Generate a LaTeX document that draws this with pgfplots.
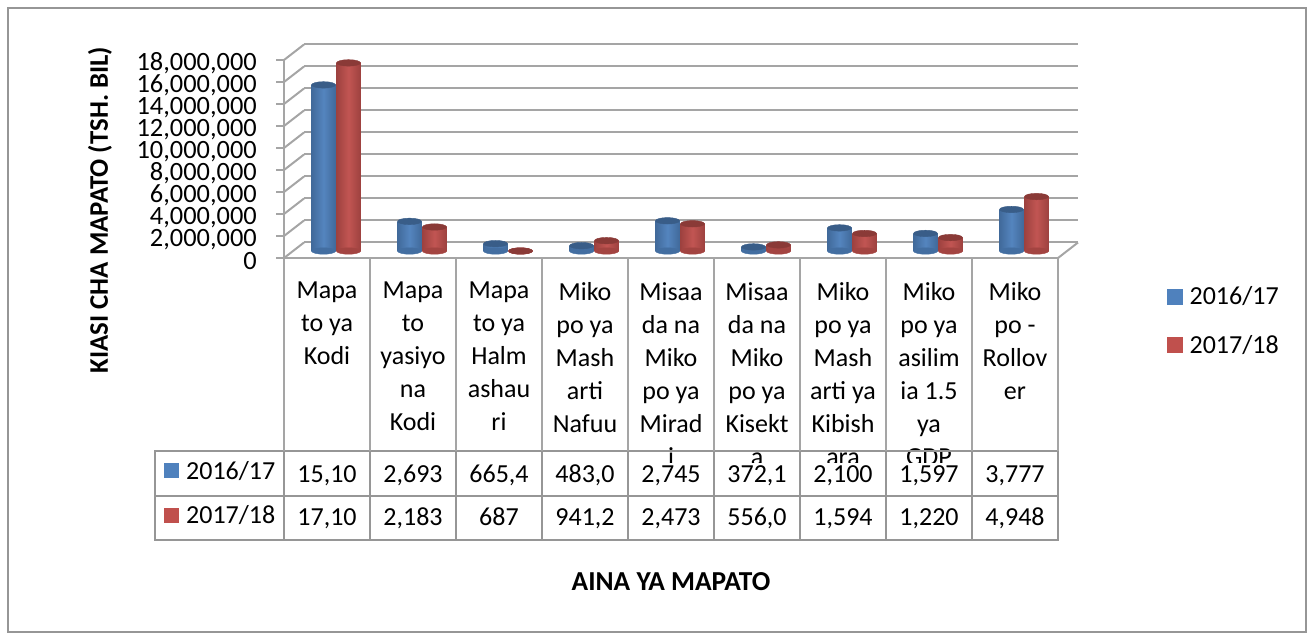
\documentclass[border=0pt]{standalone}
\usepackage{pgfplots}
\usepackage{pgfplotstable}
\usepackage{fontspec}
\setmainfont{Carlito}
\pgfplotsset{compat=1.18}
\definecolor{blueA}{RGB}{79,129,189}
\definecolor{redA}{RGB}{192,80,77}
\definecolor{gridc}{RGB}{165,165,165}
\definecolor{axc}{RGB}{150,150,150}
\pgfplotstableread{
x blue red
0 15100000 17100000
1 2693000 2183000
2 665400 687
3 483000 941200
4 2745000 2473000
5 372100 556000
6 2100000 1594000
7 1597000 1220000
8 3777000 4948000
}\budget
\newcommand{\sz}{\fontsize{26}{33}\selectfont}
\pgfplotsset{base/.style={scale only axis,width=774pt,height=198pt,xmin=0,xmax=9,ymin=0,ymax=18000000,clip=false,scaled y ticks=false}}
\begin{document}
\begin{tikzpicture}[x=1pt,y=1pt]
\path (0,0) rectangle (1309,633);
\draw[axc,line width=1.5pt] (8,1) rectangle (1306,625);
% back wall
\begin{axis}[base,at={(304pt,390.5pt)},anchor=south west,axis line style={draw=none},
  ytick={0,2000000,...,18000000},yticklabels={},ytick style={draw=none},ymajorgrids,xtick=\empty,
  grid style={gridc,line width=2pt}]
\addplot[draw=none] coordinates {(0,0)};
\end{axis}
% walls
\foreach \k in {0,...,9}
  \draw[gridc,line width=2pt] (284,375+22*\k) -- (304,390.5+22*\k);
\draw[gridc,line width=2pt] (1058,375) -- (1078,390.5);
% bars
\begin{axis}[base,xmin=-0.5,xmax=8.5,at={(293pt,382pt)},anchor=south west,axis lines=none,
  legend style={at={(874pt,-33.5pt)},anchor=north west,draw=none,fill=none,
    font=\sz,row sep=25pt,legend cell align=left,inner sep=0pt},
  legend image code/.code={\fill[#1] (0pt,-7.5pt) rectangle (15pt,7.5pt);}]
\addlegendimage{blueA}\addlegendentry{\hspace{5pt}2016/17}
\addlegendimage{redA}\addlegendentry{\hspace{5pt}2017/18}
\addplot[only marks,mark=*,mark size=12pt,mark options={yscale=0.27,draw=blueA!85!black,fill=blueA!85!black},forget plot]
  table[x expr=\thisrow{x}-12.5/86,y expr=0]{\budget};
\addplot[only marks,mark=*,mark size=12pt,mark options={yscale=0.27,draw=redA!85!black,fill=redA!85!black},forget plot]
  table[x expr=\thisrow{x}+12.5/86,y expr=0]{\budget};
\pgfplotsinvokeforeach{0,...,8}{
\addplot[ybar,bar width=24pt,bar shift=-12.5pt,draw=none,left color=blueA!82!black,right color=blueA!82!black,middle color=blueA!97!white,restrict x to domain=#1:#1,forget plot]
  table[x=x,y=blue]{\budget};
\addplot[ybar,bar width=24pt,bar shift=12.5pt,draw=none,left color=redA!82!black,right color=redA!82!black,middle color=redA!97!white,restrict x to domain=#1:#1,forget plot]
  table[x=x,y=red]{\budget};
}
\addplot[only marks,mark=*,mark size=12pt,mark options={yscale=0.27,draw=blueA!72!black,fill=blueA!72!black},forget plot]
  table[x expr=\thisrow{x}-12.5/86,y=blue]{\budget};
\addplot[only marks,mark=*,mark size=12pt,mark options={yscale=0.27,draw=redA!72!black,fill=redA!72!black},forget plot]
  table[x expr=\thisrow{x}+12.5/86,y=red]{\budget};
\end{axis}
% front axis
\begin{axis}[base,at={(284pt,375pt)},anchor=south west,
  axis x line=bottom,axis y line=left,axis line style={gridc,line width=2pt,-},
  ytick={0,2000000,...,18000000},
  y tick label style={/pgf/number format/.cd,fixed,1000 sep={,},assume math mode=true,/tikz/.cd,font=\fontsize{26.4}{33}\selectfont,yshift=-3.5pt,inner sep=0pt,anchor=east,xshift=-19pt},
  ytick style={gridc,line width=1.5pt},tick align=outside,major tick length=8pt,
  xtick={0.5,...,8.5},xtick style={draw=none},
  xticklabels={{Mapa\\to ya\\Kodi},{Mapa\\to\\yasiyo\\na\\Kodi},{Mapa\\to ya\\Halm\\ashau\\ri},{Miko\\po ya\\Mash\\arti\\Nafuu},{Misaa\\da na\\Miko\\po ya\\Mirad\\i},{Misaa\\da na\\Miko\\po ya\\Kisekt\\a},{Miko\\po ya\\Mash\\arti ya\\Kibish\\ara},{Miko\\po ya\\asilim\\ia 1.5\\ya\\GDP},{Miko\\po -\\Rollov\\er}},
  x tick label style={font=\sz,align=center,anchor=north,yshift=-16pt,inner sep=0pt},
  ylabel={\bfseries KIASI CHA MAPATO (TSH. BIL)},
  ylabel style={font=\fontsize{26.8}{30}\selectfont,at={(axis description cs:0,0.242)},anchor=center,yshift=184pt},
  xlabel={\bfseries AINA YA MAPATO},xlabel style={font=\fontsize{27.4}{30}\selectfont,at={(axis description cs:0.5,0)},yshift=-324pt,anchor=center}]
\addplot[draw=none,forget plot] coordinates {(0,0)};
\end{axis}
% data table
\fill[white] (155,94) rectangle (1058,170);
\draw[axc,line width=2pt] (155,93.5) rectangle (1057.5,182);
\draw[axc,line width=2pt] (155,137) -- (1057.5,137);
\foreach \i in {0,...,9}
  \draw[gridc,line width=2pt] (284+86*\i,375) -- (284+86*\i,182);
\foreach \i in {0,...,9}
  \draw[axc,line width=2pt] (284+86*\i,182) -- (284+86*\i,93.5);
\fill[blueA] (164,155) rectangle (179,170);
\fill[redA] (164,110) rectangle (179,125);
\node[font=\sz,anchor=base west,inner sep=0pt] at (186,154) {2016/17};
\node[font=\sz,anchor=base west,inner sep=0pt] at (186,110) {2017/18};
\foreach \i/\a/\b in {0/{15,10}/{17,10},1/{2,693}/{2,183},2/{665,4}/{687},3/{483,0}/{941,2},4/{2,745}/{2,473},5/{372,1}/{556,0},6/{2,100}/{1,594},7/{1,597}/{1,220},8/{3,777}/{4,948}}{
  \node[font=\sz,inner sep=0pt,anchor=base] at (327+86*\i,151) {\a};
  \node[font=\sz,inner sep=0pt,anchor=base] at (327+86*\i,108) {\b};
}
\end{tikzpicture}
\end{document}
